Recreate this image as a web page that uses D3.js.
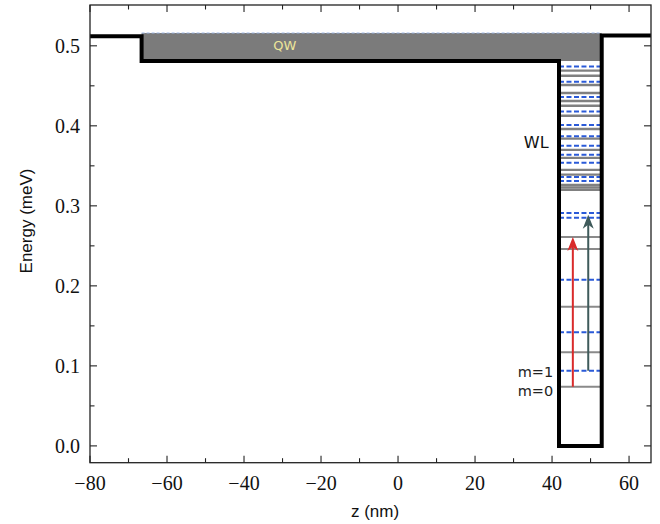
<!DOCTYPE html>
<html><head><meta charset="utf-8">
<script src="https://cdn.jsdelivr.net/npm/d3@7"></script>
<style>body{margin:0;background:#fff}
.serif{font-family:"Liberation Serif","DejaVu Serif",serif}
.sans{font-family:"Liberation Sans",Arial,sans-serif}
.dv{font-family:"DejaVu Sans",sans-serif}
</style></head>
<body><svg id="c" width="660" height="524"></svg>
<script>
// ---- data ----
const xTicks = [-80, -60, -40, -20, 0, 20, 40, 60];
const xMinorTicks = [-70, -50, -30, -10, 10, 30, 50];
const yTicks = [0.0, 0.1, 0.2, 0.3, 0.4, 0.5];
const yMinorTicks = [0.05, 0.15, 0.25, 0.35, 0.45];
const xDomain = [-80, 65.7];
const yDomain = [-0.021, 0.551];

const potentialZ = [-80, -66.6, -66.6, 41.8, 41.8, 52.9, 52.9, 65.7];
const potentialE = [0.512, 0.512, 0.481, 0.481, 0.0, 0.0, 0.513, 0.513];

const qwFillZ = [-66.6, 52.9];
const qwFillE = [0.481, 0.516];
const wellZ = [41.8, 52.9];

const wlGrayE = [0.469, 0.4625, 0.451, 0.441, 0.431, 0.425, 0.4125, 0.396, 0.384, 0.370, 0.360, 0.345, 0.339, 0.326, 0.323, 0.320];
const wlBlueE = [0.474, 0.455, 0.436, 0.418, 0.401, 0.387, 0.375, 0.364, 0.354, 0.336, 0.331];
const boundGrayE = [0.261, 0.246, 0.174, 0.117, 0.074];
const boundBlueE = [0.291, 0.285, 0.2075, 0.142, 0.094];

const arrowZ = [45.4, 49.4];
const arrowFromE = [0.074, 0.094];
const arrowToE = [0.261, 0.289];
const arrowColors = ["#d92b2b", "#3f5b5b"];

const labels = [
  {text: "QW", z: -29.4, e: 0.5, anchor: "middle", size: 13, color: "#ece59a"},
  {text: "WL", z: 39.1, e: 0.3725, anchor: "end", size: 16, color: "#111", base: true},
  {text: "m=1", z: 40.3, e: 0.0866, anchor: "end", size: 14.5, color: "#222", base: true},
  {text: "m=0", z: 40.3, e: 0.0625, anchor: "end", size: 14.5, color: "#222", base: true}
];

// ---- layout ----
const L = 90, R = 651, T = 5, B = 462.7;
const svg = d3.select("#c");
const x = d3.scaleLinear().domain(xDomain).range([L, R]);
const y = d3.scaleLinear().domain(yDomain).range([B, T]);

svg.append("defs").append("clipPath").attr("id", "clip")
  .append("rect").attr("x", L).attr("y", T).attr("width", R - L).attr("height", B - T);
const g = svg.append("g").attr("clip-path", "url(#clip)");

// QW fill
g.append("rect")
  .attr("x", x(qwFillZ[0])).attr("width", x(qwFillZ[1]) - x(qwFillZ[0]))
  .attr("y", y(qwFillE[1])).attr("height", y(qwFillE[0]) - y(qwFillE[1]))
  .attr("fill", "#7b7b7b");
g.append("line")
  .attr("x1", x(qwFillZ[0])).attr("x2", x(qwFillZ[1]))
  .attr("y1", y(qwFillE[1])).attr("y2", y(qwFillE[1]))
  .attr("stroke", "#9db7e6").attr("stroke-width", 1.2).attr("stroke-dasharray", "3,2");

// levels
function levels(arr, color, width, dash) {
  g.selectAll(null).data(arr).enter().append("line")
    .attr("x1", x(wellZ[0])).attr("x2", x(wellZ[1]))
    .attr("y1", d => y(d)).attr("y2", d => y(d))
    .attr("stroke", color).attr("stroke-width", width)
    .attr("stroke-dasharray", dash || null);
}
levels(wlGrayE, "#808080", 2.4);
levels(boundGrayE, "#8a8a8a", 2);
levels(wlBlueE, "#2a5ad8", 2, "5,2.5");
levels(boundBlueE, "#2a5ad8", 2, "5,2.5");

// potential
const pts = potentialZ.map((z, i) => [x(z), y(potentialE[i])]);
g.append("path").attr("d", d3.line()(pts))
  .attr("fill", "none").attr("stroke", "#000").attr("stroke-width", 4)
  .attr("stroke-linejoin", "miter");

// arrows
arrowZ.forEach((z, i) => {
  const xa = x(z), y0 = y(arrowFromE[i]), y1 = y(arrowToE[i]);
  g.append("line").attr("x1", xa).attr("x2", xa).attr("y1", y0).attr("y2", y1 + 8)
    .attr("stroke", arrowColors[i]).attr("stroke-width", 2);
  g.append("path")
    .attr("d", `M${xa},${y1} L${xa + 5.5},${y1 + 14} L${xa},${y1 + 10} L${xa - 5.5},${y1 + 14} Z`)
    .attr("fill", arrowColors[i]);
});

// text labels
labels.forEach(l => {
  svg.append("text").attr("class", "dv").attr("x", x(l.z)).attr("y", y(l.e))
    .attr("dy", l.base ? 0 : "0.35em")
    .attr("text-anchor", l.anchor)
    .attr("font-size", l.size).attr("fill", l.color).text(l.text);
});

// frame
svg.append("rect").attr("x", L).attr("y", T).attr("width", R - L).attr("height", B - T)
  .attr("fill", "none").attr("stroke", "#222").attr("stroke-width", 1.3);

// ticks (inward, all sides)
const tk = svg.append("g").attr("stroke", "#222").attr("stroke-width", 1.1);
function xt(vals, len) {
  vals.forEach(v => {
    tk.append("line").attr("x1", x(v)).attr("x2", x(v)).attr("y1", B).attr("y2", B - len);
    tk.append("line").attr("x1", x(v)).attr("x2", x(v)).attr("y1", T).attr("y2", T + len);
  });
}
function yt(vals, len) {
  vals.forEach(v => {
    tk.append("line").attr("y1", y(v)).attr("y2", y(v)).attr("x1", L).attr("x2", L + len);
    tk.append("line").attr("y1", y(v)).attr("y2", y(v)).attr("x1", R).attr("x2", R - len);
  });
}
xt(xTicks, 7); xt(xMinorTicks, 4.5);
yt(yTicks, 7); yt(yMinorTicks, 4.5);

// tick labels
const fmtX = d => (d < 0 ? "\u2212" + Math.abs(d) : String(d));
svg.selectAll(null).data(xTicks).enter().append("text").attr("class", "serif")
  .attr("x", d => x(d)).attr("y", 483).attr("dy", "0.35em")
  .attr("text-anchor", "middle")
  .attr("font-size", 20).attr("fill", "#111").text(fmtX);
svg.selectAll(null).data(yTicks).enter().append("text").attr("class", "serif")
  .attr("x", 80).attr("y", d => y(d)).attr("dy", "0.35em")
  .attr("text-anchor", "end")
  .attr("font-size", 20).attr("fill", "#111").text(d => d.toFixed(1));

// axis titles
svg.append("text").attr("class", "sans").attr("x", 375).attr("y", 511).attr("dy", "0.35em")
  .attr("text-anchor", "middle")
  .attr("font-size", 17).attr("fill", "#111").text("z (nm)");
svg.append("text").attr("class", "sans").attr("transform", "translate(26,221) rotate(-90)").attr("dy", "0.35em")
  .attr("text-anchor", "middle")
  .attr("font-size", 17).attr("fill", "#111").text("Energy (meV)");
</script></body></html>
